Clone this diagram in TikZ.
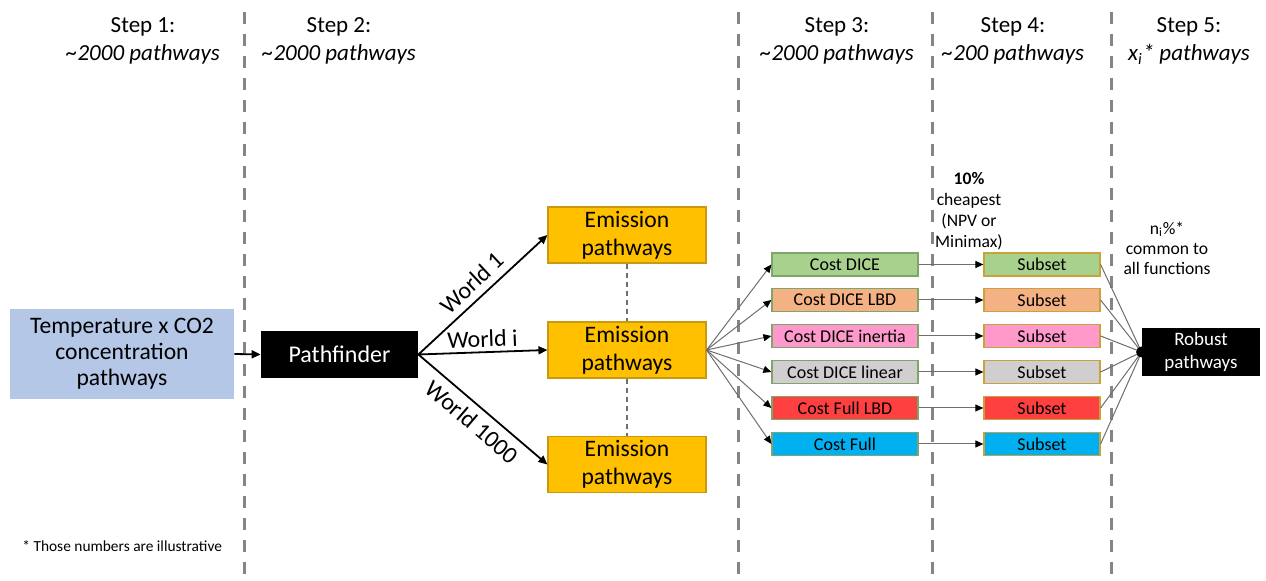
\documentclass[tikz,border=0pt]{standalone}
\usepackage{fontspec}
\setmainfont{Carlito}
\usetikzlibrary{arrows.meta}
\definecolor{bluebox}{HTML}{B4C7E7}
\definecolor{emis}{HTML}{FFC000}
\definecolor{emisb}{HTML}{C99A10}
\definecolor{cgreen}{HTML}{A9D18E}
\definecolor{corange}{HTML}{F4B183}
\definecolor{cpink}{HTML}{FF99CC}
\definecolor{cgray}{HTML}{D0CECE}
\definecolor{cred}{HTML}{FF4040}
\definecolor{cblue}{HTML}{00B0F0}
\definecolor{costb}{HTML}{7FA66A}
\definecolor{subb}{HTML}{C9A23A}
\definecolor{divider}{HTML}{858585}
\definecolor{thinline}{HTML}{6F6F6F}
\tikzset{
  steptext/.style={align=center, font=\fontsize{11.5}{14}\selectfont, inner sep=0pt},
  annot/.style={align=center, font=\fontsize{8.8}{10.5}\selectfont, inner sep=0pt},
  tempbox/.style={fill=bluebox, draw=none, minimum width=112pt, minimum height=45pt, align=center, inner sep=0pt, font=\fontsize{11.8}{13}\selectfont},
  blackbox/.style={fill=black, text=white, draw=none, align=center, inner sep=0pt},
  emisbox/.style={fill=emis, draw=emisb, line width=0.6pt, minimum width=79pt, minimum height=28pt, align=center, inner sep=0pt, font=\fontsize{11.8}{14}\selectfont},
  costbox/.style={draw=costb, line width=0.6pt, minimum width=73pt, minimum height=11.5pt, inner sep=0pt, font=\fontsize{9}{10}\selectfont},
  subbox/.style={draw=subb, line width=0.6pt, minimum width=58pt, minimum height=11.5pt, inner sep=0pt, font=\fontsize{9}{10}\selectfont},
  divline/.style={draw=divider, line width=1.5pt, dash pattern=on 6pt off 5pt},
  mainarrow/.style={line width=0.9pt, -{Triangle[length=4.5pt,width=4pt]}},
  thinarrow/.style={draw=thinline, line width=0.5pt, -{Triangle[length=4pt,width=3.5pt,color=black]}},
  thinline/.style={draw=thinline, line width=0.5pt},
  wlabel/.style={font=\fontsize{12}{13}\selectfont, inner sep=3.5pt},
}
\begin{document}
\begin{tikzpicture}[x=0.5pt,y=-0.5pt]
\useasboundingbox[fill=white] (0,0) rectangle (1266,581);

% dividers
\draw[divline] (244,12) -- (244,581);
\draw[divline] (738,12) -- (738,581);
\draw[divline] (932,12) -- (932,581);
\draw[divline] (1111,12) -- (1111,581);

% step headings
\node[steptext] (s1) at (143,41) {Step 1:\\\textit{\textasciitilde2000 pathways}};
\node[steptext] (s2) at (339,41) {Step 2:\\\textit{\textasciitilde2000 pathways}};
\node[steptext] (s3) at (837,41) {Step 3:\\\textit{\textasciitilde2000 pathways}};
\node[steptext] (s4) at (1013,41) {Step 4:\\\textit{\textasciitilde200 pathways}};
\node[steptext] (s5) at (1189,41) {Step 5:\\\textit{x\textsubscript{i}* pathways}};

% left part
\node[tempbox] (temp) at (122,354) {Temperature x CO2\\concentration\\pathways};
\node[blackbox, minimum width=78.5pt, minimum height=23.5pt, font=\fontsize{12}{13}\selectfont] (pf) at (339.5,354.5) {Pathfinder};
\draw[mainarrow] (temp.east) -- (pf.west);

\node[emisbox] (e1) at (627,235) {Emission\\pathways};
\node[emisbox] (e2) at (627,350) {Emission\\pathways};
\node[emisbox] (e3) at (627,464.5) {Emission\\pathways};
\draw[draw=thinline, line width=0.6pt, dash pattern=on 2.5pt off 2pt] (e1.south) -- (e2.north);
\draw[draw=thinline, line width=0.6pt, dash pattern=on 2.5pt off 2pt] (e2.south) -- (e3.north);

\draw[mainarrow] (pf.east) -- node[wlabel, midway, sloped, above] {World 1} (e1.west);
\draw[mainarrow] (pf.east) -- node[wlabel, midway, sloped, above, inner sep=2pt] {World i} (e2.west);
\draw[mainarrow] (pf.east) -- node[wlabel, midway, sloped, below] {World 1000} (e3.west);

% cost boxes
\node[costbox, fill=cgreen]  (c1) at (845,264.5) {Cost DICE};
\node[costbox, fill=corange] (c2) at (845,300) {Cost DICE LBD};
\node[costbox, fill=cpink]   (c3) at (845,336) {Cost DICE inertia};
\node[costbox, fill=cgray]   (c4) at (845,372) {Cost DICE linear};
\node[costbox, fill=cred]    (c5) at (845,408) {Cost Full LBD};
\node[costbox, fill=cblue]   (c6) at (845,444) {Cost Full};

\node[subbox, fill=cgreen]  (u1) at (1042,264.5) {Subset};
\node[subbox, fill=corange] (u2) at (1042,300) {Subset};
\node[subbox, fill=cpink]   (u3) at (1042,336) {Subset};
\node[subbox, fill=cgray]   (u4) at (1042,372) {Subset};
\node[subbox, fill=cred]    (u5) at (1042,408) {Subset};
\node[subbox, fill=cblue]   (u6) at (1042,444) {Subset};

\node[blackbox, minimum width=59pt, minimum height=24pt, font=\fontsize{9.5}{11.5}\selectfont] (rob) at (1201,352) {Robust\\pathways};
\coordinate (hub) at (rob.west);

\foreach \i in {1,...,6} {
  \draw[thinarrow] (e2.east) -- (c\i.west);
  \draw[thinarrow] (c\i.east) -- (u\i.west);
  \draw[thinline] (u\i.east) -- (hub);
}
\fill (hub) circle (5.5);

% annotations
\node[annot] (a1) at (969,211) {\textbf{10\%}\\cheapest\\(NPV or\\Minimax)};
\node[annot, font=\fontsize{8.8}{10}\selectfont] (a2) at (1167,248) {n\textsubscript{i}\%*\\common to\\all functions};

\node[inner sep=0pt, font=\fontsize{7.7}{9}\selectfont, anchor=west] (fn) at (22,546) {* Those numbers are illustrative};
\end{tikzpicture}
\end{document}
